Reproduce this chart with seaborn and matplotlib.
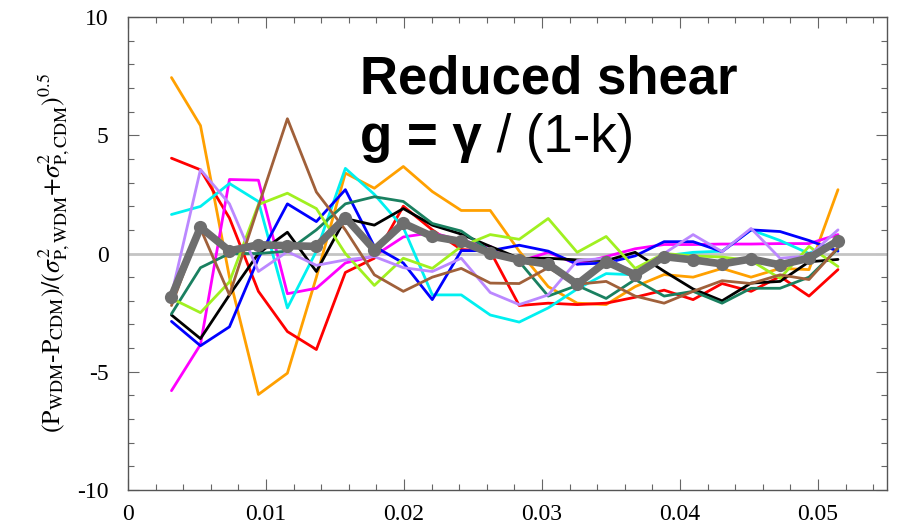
import numpy as np
import pandas as pd
import seaborn as sns
from matplotlib import pyplot as plt
from matplotlib.ticker import MultipleLocator

# scale bins (24 points)
k = [0.00315, 0.00525, 0.00735, 0.00945, 0.01155, 0.01365, 0.01575, 0.01785,
     0.01995, 0.02205, 0.02415, 0.02625, 0.02835, 0.03045, 0.03255, 0.03465,
     0.03675, 0.03885, 0.04095, 0.04305, 0.04515, 0.04725, 0.04935, 0.05145]

orange = [7.44, 5.41, -1.0, -5.96, -5.06, -1.0, 3.40, 2.76, 3.68, 2.62, 1.82, 1.82,
          0.1, -1.4, -2.1, -2.16, -1.4, -0.89, -1.0, -0.63, -1.0, -0.63, -0.68, 2.7]
red = [4.03, 3.54, 1.5, -1.6, -3.3, -4.06, -0.8, -0.2, 2.0, 1.0, 0.17, 0.1,
       -2.2, -2.1, -2.16, -2.1, -1.85, -1.55, -1.95, -1.27, -1.6, -0.97, -1.8, -0.68]
magenta = [-5.8, -3.85, 3.13, 3.1, -1.7, -1.47, -0.4, -0.1, 0.7, 0.88, 0.55, 0.3,
           -0.34, 0.05, -0.45, -0.13, 0.2, 0.38, 0.38, 0.4, 0.4, 0.42, 0.42, 0.8]
cyan = [1.65, 1.99, 2.96, 2.2, -2.3, 0.1, 3.6, 2.5, 1.1, -1.75, -1.75, -2.6,
        -2.9, -2.3, -1.5, -0.85, -0.9, -0.1, 0.05, 0.1, 1.0, 0.55, 0.0, 0.6]
blue = [-2.87, -3.9, -3.1, -0.2, 2.1, 1.35, 2.7, 0.3, -0.4, -1.95, 0.12, 0.12,
        0.35, 0.1, -0.45, -0.4, -0.1, 0.5, 0.5, 0.08, 1.0, 0.93, 0.55, 0.1]
black = [-2.6, -3.6, -1.75, 0.0, 0.9, -0.76, 1.48, 1.2, 1.9, 1.2, 0.82, 0.3,
         -0.2, -0.2, -0.27, -0.3, 0.05, -0.75, -1.5, -2.0, -1.25, -1.18, -0.35, -0.25]
teal = [-2.55, -0.6, 0.0, 0.0, 0.1, 1.0, 2.1, 2.4, 2.2, 1.27, 0.95, 0.1,
        -0.34, -1.8, -1.35, -1.9, -1.1, -1.8, -1.6, -2.1, -1.47, -1.47, -1.0, 0.2]
lime = [-1.9, -2.5, -1.2, 2.07, 2.55, 1.9, 0.0, -1.35, -0.2, -0.63, 0.3, 0.8,
        0.6, 1.48, 0.05, 0.72, -0.63, 0.0, -0.1, -0.15, -0.3, -1.05, 0.3, -0.55]
lavender = [-1.75, 3.55, 2.1, -0.76, 0.08, -0.5, -0.27, -0.13, -0.6, -0.76, -0.2, -1.65,
            -2.16, -1.75, -0.3, -0.2, -0.83, 0.0, 0.8, 0.08, 1.06, -0.2, -0.1, 1.0]
brown = [-2.2, 1.06, -1.75, 2.0, 5.7, 2.6, 1.0, -0.9, -1.6, -1.0, -0.63, -1.25,
         -1.27, -0.6, -1.3, -1.18, -1.8, -2.1, -1.6, -1.15, -1.27, -0.9, -1.1, 0.25]
mean = [-1.82, 1.11, 0.11, 0.37, 0.33, 0.30, 1.52, 0.16, 1.28, 0.72, 0.51, 0.01,
        -0.27, -0.45, -1.30, -0.34, -0.90, -0.13, -0.27, -0.44, -0.23, -0.48, -0.20, 0.54]

series = {"orange": orange, "red": red, "magenta": magenta, "cyan": cyan,
          "blue": blue, "black": black, "teal": teal, "lime": lime,
          "lavender": lavender, "brown": brown}
colors = {"orange": "#ffa000", "red": "#ff0000", "magenta": "#ff00ff", "cyan": "#00f0f0",
          "blue": "#0000ff", "black": "#000000", "teal": "#1a8060", "lime": "#a0f020",
          "lavender": "#bb88ff", "brown": "#a0603a"}

df = pd.concat([pd.DataFrame({"k": k, "val": v, "run": name}) for name, v in series.items()])

sns.set_style("ticks")
plt.rcParams["font.family"] = ["Liberation Serif", "DejaVu Serif"]
plt.rcParams["mathtext.fontset"] = "stix"
plt.rcParams["axes.unicode_minus"] = False
plt.rcParams["text.color"] = "black"
plt.rcParams["axes.labelcolor"] = "black"

fig = plt.figure(figsize=(9.06, 5.27), dpi=100)
ax = fig.add_axes([0.1413, 0.0702, 0.8377, 0.8975])

ax.axhline(0, color="#c4c4c4", lw=2, zorder=1)
sns.lineplot(data=df, x="k", y="val", hue="run", palette=colors, legend=False,
             lw=2.0, ax=ax, zorder=2)
sns.lineplot(x=k, y=mean, color="#6e6e6e", lw=5.5, marker="o", markersize=9.5,
             markeredgewidth=0, ax=ax, zorder=3)

ax.set_xlim(0, 0.055)
ax.set_ylim(-10, 10)
ax.xaxis.set_minor_locator(MultipleLocator(0.002))
ax.yaxis.set_major_locator(MultipleLocator(5))
ax.yaxis.set_minor_locator(MultipleLocator(1))
ax.set_xticks([0, 0.01, 0.02, 0.03, 0.04, 0.05])
ax.set_xticklabels(["0", "0.01", "0.02", "0.03", "0.04", "0.05"])
ax.tick_params(which="both", direction="in", top=True, right=True, colors="#666666",
               labelcolor="black", labelsize=17)
ax.tick_params(which="major", length=8, width=0.8)
ax.tick_params(which="minor", length=4, width=0.8)
ax.tick_params(axis="x", pad=10)
ax.tick_params(axis="y", pad=14)
for s in ax.spines.values():
    s.set_color("#555555")
    s.set_linewidth(1.0)

ax.set_xlabel("")
ax.set_ylabel(r"$(\mathrm{P_{WDM}\text{-}P_{CDM}})/(\sigma^2_{\mathrm{P,WDM}}\text{+}\sigma^2_{\mathrm{P,CDM}})^{0.5}$",
              fontsize=18.5, labelpad=4)

t1 = ax.text(0.306, 0.839, "Reduced shear", transform=ax.transAxes, fontsize=38,
             fontweight="bold", family="Liberation Sans", va="baseline", ha="left",
             color="black")
t2 = ax.text(0.306, 0.715, "g = γ", transform=ax.transAxes, fontsize=38,
             fontweight="bold", family="Liberation Sans", va="baseline", ha="left",
             color="black")
ax.annotate(" / (1-k)", xy=(1, 0), xycoords=t2, fontsize=38,
            family="Liberation Sans", va="bottom", ha="left", color="black")

fig.savefig("out.png", dpi=100)
